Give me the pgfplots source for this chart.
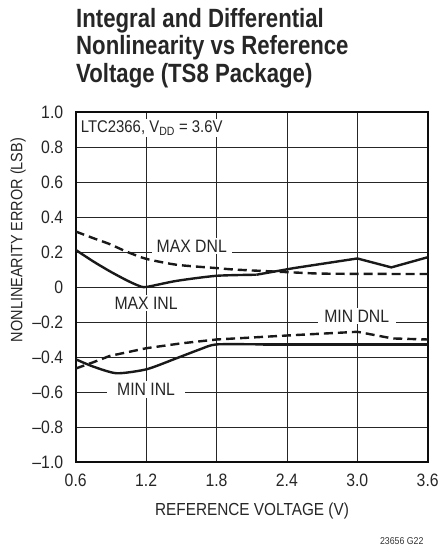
\documentclass[border=0pt]{standalone}
\usepackage{fontspec}
\setmainfont{Liberation Sans}[FakeStretch=0.88]
\newfontfamily\titlefont{Liberation Sans}[FakeStretch=0.84]
\usepackage{pgfplots}
\pgfplotsset{compat=1.18}
\begin{document}
\begin{tikzpicture}[x=1bp,y=1bp]
\path[use as bounding box] (0,0) rectangle (440,548);
\node[anchor=north west, align=left, font=\titlefont\bfseries\fontsize{26.5}{27.5}\selectfont, inner sep=0, text=black!85] at (76,540) {Integral and Differential\\Nonlinearity vs Reference\\Voltage (TS8 Package)};
\node[anchor=east, font=\fontsize{10}{10}\selectfont, text=black!80] at (427,7) {23656 G22};
\node[font=\fontsize{17.5}{18}\selectfont, text=black!85] at (252,37) {REFERENCE VOLTAGE (V)};
\node[rotate=90, font=\fontsize{16.5}{17}\selectfont, text=black!85] at (18,308) {NONLINEARITY ERROR (LSB)};
\begin{axis}[
  at={(75.7bp,86bp)}, anchor=south west,
  scale only axis, width=352bp, height=350bp,
  xmin=0.6, xmax=3.6, ymin=-1, ymax=1,
  xtick={0.6,1.2,1.8,2.4,3.0,3.6},
  xticklabels={0.6,1.2,1.8,2.4,3.0,3.6},
  ytick={-1,-0.8,-0.6,-0.4,-0.2,0,0.2,0.4,0.6,0.8,1},
  yticklabels={–1.0,–0.8,–0.6,–0.4,–0.2,0,0.2,0.4,0.6,0.8,1.0},
  grid=major,
  grid style={black!85, line width=0.8bp},
  axis line style={line width=1.8bp, black!95},
  major tick length=0pt,
  tick label style={font=\fontsize{18}{18}\selectfont, text=black!85},
  yticklabel style={xshift=-9bp},
  xticklabel style={yshift=-8bp},
  /pgf/number format/assume math mode=true,
  clip=true,
]
% MAX INL
\addplot[black!90, line width=2.4bp, smooth, tension=0.4] coordinates {
(0.6,0.212) (0.75,0.146) (0.893,0.089) (1.035,0.038) (1.134,0.008) (1.2,0.0) (1.46,0.035) (1.8,0.064) (2.14,0.070)};
\addplot[black!90, line width=2.4bp] coordinates {
(2.14,0.070) (2.46,0.108) (3.0,0.163) (3.29,0.112) (3.6,0.17)};
% MAX DNL
\addplot[black!90, line width=2.4bp, dash pattern=on 9bp off 5bp, smooth, tension=0.4] coordinates {
(0.6,0.317) (0.75,0.279) (0.89,0.245) (1.03,0.203) (1.2,0.161) (1.46,0.127) (1.8,0.108) (1.97,0.099) (2.46,0.083) (2.74,0.076) (3.6,0.074)};
% MIN INL
\addplot[black!90, line width=2.4bp, smooth, tension=0.4] coordinates {
(0.6,-0.413) (0.75,-0.455) (0.95,-0.493) (1.205,-0.47) (1.46,-0.407) (1.66,-0.356) (1.8,-0.328) (2.2,-0.328)};
\addplot[black!90, line width=2.4bp] coordinates {(2.2,-0.328) (3.6,-0.328)};
% MIN DNL
\addplot[black!90, line width=2.4bp, dash pattern=on 9bp off 5bp] coordinates {
(0.6,-0.466) (0.75,-0.43) (0.89,-0.394) (1.2,-0.35) (1.5,-0.322) (1.8,-0.30) (2.46,-0.275) (3.0,-0.256) (3.3,-0.294) (3.6,-0.30)};
\node[fill=white, inner sep=2bp, anchor=west, font=\fontsize{17}{17}\selectfont, text=black!85] at (axis cs:0.625,0.909) {LTC2366, V\textsubscript{\fontsize{12}{12}\selectfont DD} = 3.6V};
\node[fill=white, inner xsep=5bp, inner ysep=2bp, font=\fontsize{18}{18}\selectfont, text=black!85] at (axis cs:1.589,0.235) {MAX DNL};
\node[fill=white, inner xsep=3bp, inner ysep=2bp, font=\fontsize{18}{18}\selectfont, text=black!85] at (axis cs:1.2,-0.091) {MAX INL};
\node[fill=white, inner xsep=6.5bp, inner ysep=2bp, font=\fontsize{18}{18}\selectfont, text=black!85] at (axis cs:2.995,-0.167) {MIN DNL};
\node[fill=white, inner xsep=10bp, inner ysep=2bp, font=\fontsize{18}{18}\selectfont, text=black!85] at (axis cs:1.2,-0.585) {MIN INL};
\end{axis}
\end{tikzpicture}
\end{document}
